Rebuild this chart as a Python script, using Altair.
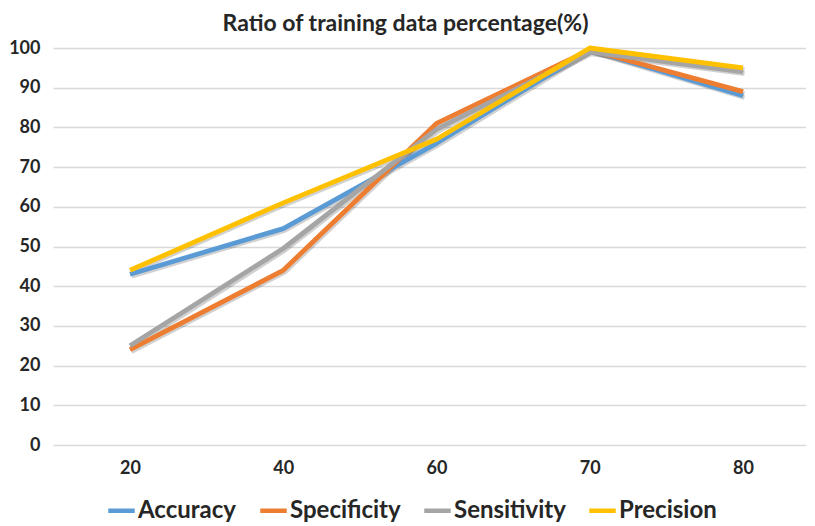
import altair as alt
import pandas as pd

ratios = ["20", "40", "60", "70", "80"]
metrics = ["Accuracy", "Specificity", "Sensitivity", "Precision"]
colors = ["#5B9BD5", "#ED7D31", "#A5A5A5", "#FFC000"]
accuracy = [43, 54.5, 76, 99.5, 88]
specificity = [24, 44, 81, 99.5, 89]
sensitivity = [25, 49.5, 79.5, 99, 94]
precision = [44, 61, 77, 100, 95]

series = {
    "Accuracy": accuracy,
    "Specificity": specificity,
    "Sensitivity": sensitivity,
    "Precision": precision,
}
rows = []
for m in metrics:
    for r, v in zip(ratios, series[m]):
        rows.append({"Ratio": r, "Metric": m, "Value": v})
df = pd.DataFrame(rows)

FONT = "Lato"
TXT = "#262626"

x_enc = alt.X(
    "Ratio:O",
    sort=ratios,
    scale=alt.Scale(type="point", padding=0.4568, align=0.55),
    axis=alt.Axis(
        title=None, domain=False, ticks=False, grid=False, labelAngle=0,
        labelFont=FONT, labelFontSize=18, labelFontWeight="bold",
        labelColor=TXT, labelPadding=14,
    ),
)
y_enc = alt.Y(
    "Value:Q",
    scale=alt.Scale(domain=[0, 100], nice=False),
    axis=alt.Axis(
        title=None, domain=False, ticks=False, values=list(range(0, 101, 10)),
        grid=True, gridColor="#D9D9D9", gridWidth=1.5,
        labelFont=FONT, labelFontSize=18, labelFontWeight="bold",
        labelColor=TXT, labelPadding=13,
    ),
)

shadow = alt.Chart(df).mark_line(
    strokeWidth=4.5, color="#000000", opacity=0.18, xOffset=1.5, yOffset=2,
    strokeJoin="round",
).encode(x=x_enc, y=y_enc, detail="Metric:N")

base = alt.Chart(df).mark_line(strokeWidth=4.8, strokeCap="butt", strokeJoin="round").encode(
    x=x_enc,
    y=y_enc,
    color=alt.Color(
        "Metric:N",
        scale=alt.Scale(domain=metrics, range=colors),
        legend=alt.Legend(
            title=None, orient="none", legendX=53, legendY=447,
            direction="horizontal", columns=4, columnPadding=14,
            symbolType="stroke", symbolStrokeWidth=4.5, symbolSize=700,
            labelFont=FONT, labelFontSize=24, labelFontWeight="bold",
            labelColor=TXT, labelOffset=1,
        ),
    ),
)

layers = [shadow] + [base.transform_filter(alt.datum.Metric == m) for m in metrics]

chart = alt.layer(*layers).properties(
    width=753,
    height=397,
    padding={"left": 0, "top": 5, "right": 0, "bottom": 0},
    title=alt.TitleParams(
        "Ratio of training data percentage(%)",
        font=FONT, fontSize=23, fontWeight="bold", color=TXT,
        anchor="middle", offset=3, dx=-24,
    ),
).configure_view(stroke=None)

chart.save("out.html", embed_options={"renderer": "svg", "actions": False})
